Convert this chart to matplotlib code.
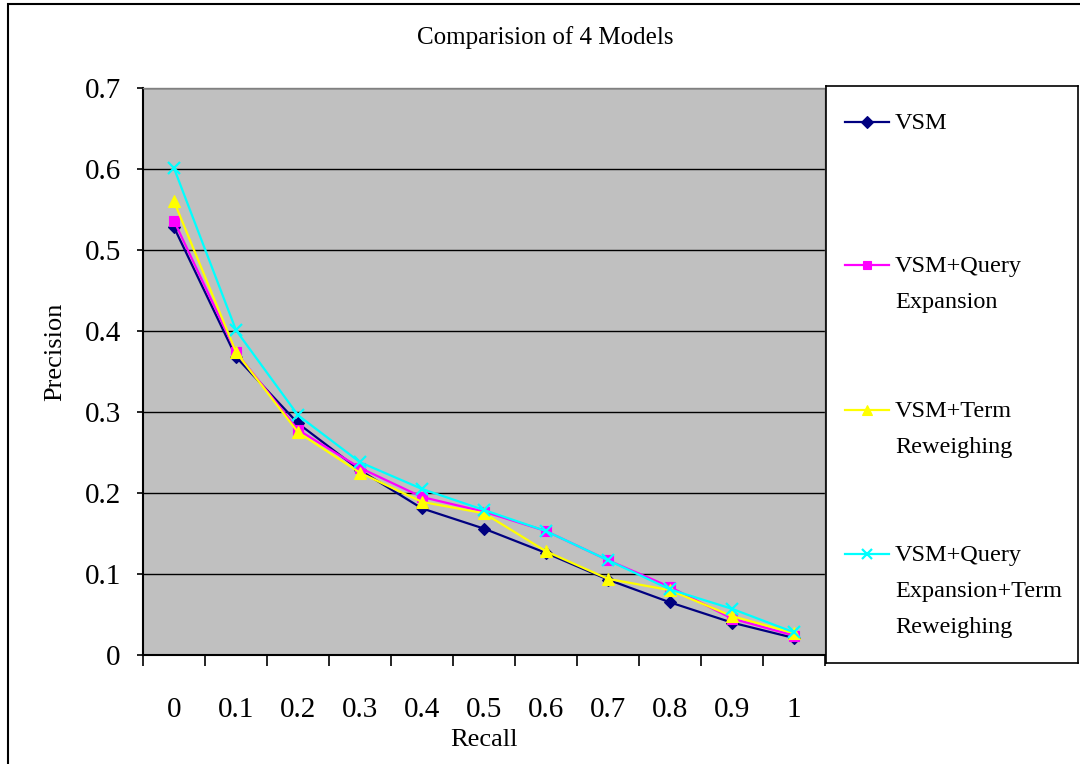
import matplotlib

matplotlib.use("Agg")
import matplotlib.pyplot as plt
import numpy as np
from matplotlib.patches import Rectangle
from matplotlib.lines import Line2D

recall = ["0", "0.1", "0.2", "0.3", "0.4", "0.5", "0.6", "0.7", "0.8", "0.9", "1"]

vsm = [0.528, 0.368, 0.286, 0.228, 0.181, 0.156, 0.126, 0.093, 0.065, 0.040, 0.021]
vsm_qe = [0.536, 0.374, 0.278, 0.231, 0.195, 0.177, 0.153, 0.117, 0.084, 0.045, 0.024]
vsm_tr = [0.560, 0.374, 0.275, 0.225, 0.189, 0.175, 0.128, 0.094, 0.080, 0.048, 0.027]
vsm_qe_tr = [0.601, 0.401, 0.296, 0.238, 0.205, 0.179, 0.153, 0.117, 0.081, 0.057, 0.028]

series_labels = ["VSM", "VSM+Query\nExpansion", "VSM+Term\nReweighing",
                 "VSM+Query\nExpansion+Term\nReweighing"]
series_colors = ["#000080", "#FF00FF", "#FFFF00", "#00FFFF"]
series_markers = ["D", "s", "^", "x"]
series_msize = [6.5, 7, 8.5, 8]

plt.rcParams["font.family"] = ["Liberation Serif", "DejaVu Serif"]

W, H = 1080, 764
fig = plt.figure(figsize=(W / 100, H / 100), dpi=100)


def fx(px):
    return px / W


def fy(py):
    return 1 - py / H


# outer chart border (right and bottom edges fall outside the image)
fig.patches.append(Rectangle((fx(8), fy(790)), fx(1100), 786 / H,
                             transform=fig.transFigure, fill=False,
                             edgecolor="black", linewidth=1.5))

left, right, top, bottom = 143, 825, 88, 655
ax = fig.add_axes([fx(left), fy(bottom), fx(right - left), (bottom - top) / H])
ax.set_facecolor("#C0C0C0")

x = np.arange(len(recall))
all_series = [vsm, vsm_qe, vsm_tr, vsm_qe_tr]
for vals, col, mk, ms in zip(all_series, series_colors, series_markers, series_msize):
    ax.plot(x, vals, color=col, marker=mk, markersize=ms, linewidth=1.6,
            markeredgewidth=1.6 if mk == "x" else 0.8, markeredgecolor=col, zorder=3)

ax.set_xlim(-0.5, len(recall) - 0.5)
ax.set_ylim(0, 0.7)
ax.set_yticks(np.arange(0, 0.71, 0.1))
ax.set_yticklabels(["0", "0.1", "0.2", "0.3", "0.4", "0.5", "0.6", "0.7"])
ax.yaxis.grid(True, color="black", linewidth=1.0)
ax.set_axisbelow(True)

ax.set_xticks(x)
ax.set_xticklabels(recall)
ax.set_xticks(np.arange(-0.5, len(recall), 1.0), minor=True)
ax.tick_params(axis="x", which="major", length=0, pad=30, labelsize=21)
ax.tick_params(axis="x", which="minor", length=8, width=1.2, direction="out")
ax.tick_params(axis="y", which="major", length=4, width=1.2, pad=12, labelsize=21)

for side in ["left", "bottom"]:
    ax.spines[side].set_color("black")
    ax.spines[side].set_linewidth(1.5)
for side in ["top", "right"]:
    ax.spines[side].set_color("#808080")
    ax.spines[side].set_linewidth(1.0)

fig.text(fx(545), fy(38), "Comparision of 4 Models", ha="center", va="center", fontsize=18)
fig.text(fx(55), fy(352), "Precision", ha="center", va="center", rotation=90, fontsize=19)
fig.text(fx(484), fy(740), "Recall", ha="center", va="center", fontsize=19)

# legend box
lx0, lx1, ly0, ly1 = 826, 1078, 86, 663
lax = fig.add_axes([fx(lx0), fy(ly1), fx(lx1 - lx0), (ly1 - ly0) / H])
lax.set_xlim(lx0, lx1)
lax.set_ylim(ly1, ly0)
lax.set_xticks([])
lax.set_yticks([])
for s in lax.spines.values():
    s.set_color("black")
    s.set_linewidth(1.2)

entry_y = [122, 265, 410, 554]
for lab, col, mk, ms, yy in zip(series_labels, series_colors, series_markers, series_msize, entry_y):
    lax.add_line(Line2D([845, 889], [yy, yy], color=col, linewidth=1.6))
    lax.add_line(Line2D([867], [yy], color=col, marker=mk, markersize=ms * 0.9,
                        markeredgewidth=1.6 if mk == "x" else 0.8, markeredgecolor=col))
    lax.text(895, yy - 9, lab, ha="left", va="top", fontsize=17.5, linespacing=1.95)

fig.savefig("out.png", dpi=100)
